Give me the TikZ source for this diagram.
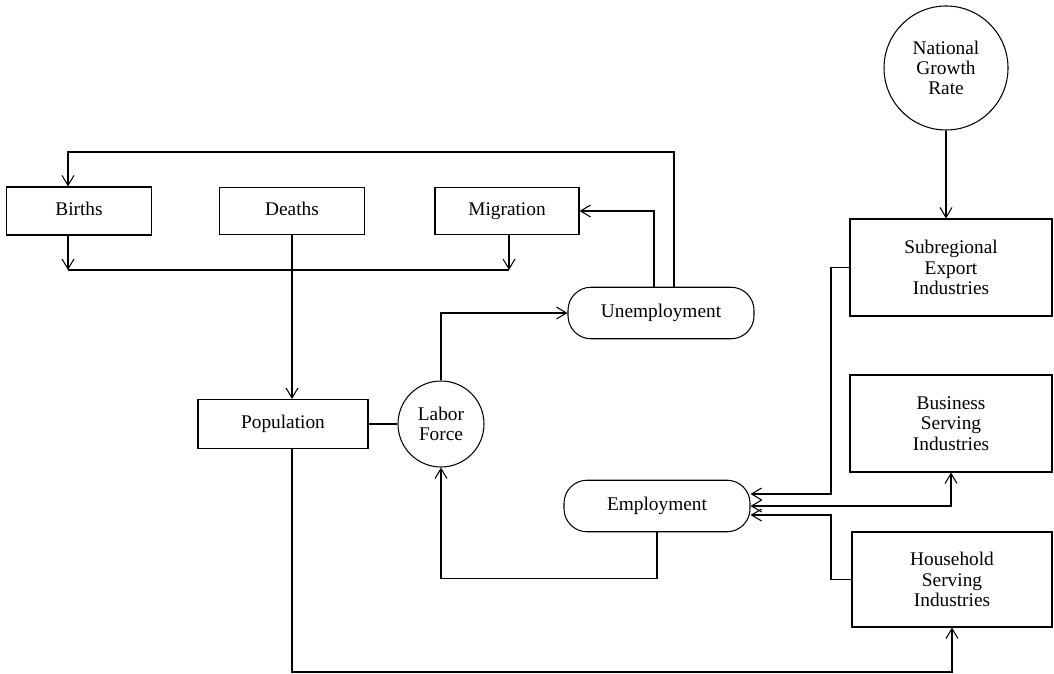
\documentclass[tikz,border=0pt]{standalone}
\usepackage{fontspec}
\setmainfont{Liberation Serif}
\usetikzlibrary{arrows.meta}
\begin{document}
\begin{tikzpicture}[
x=0.2mm,y=-0.2mm,
line width=0.6pt,
>={Straight Barb[length=2mm,width=2.4mm]},
every node/.style={
font=\fontsize{11}{11.5}\selectfont,
},
box/.style={%
draw,
align=center,
inner sep=0pt,
},
oneline/.style={%
text height=1.6ex,
text depth=0.45ex,
},
pill/.style={%
draw,
oneline,
rounded corners=4.6mm,
inner sep=0pt,
minimum height=10.3mm,
minimum width=37.2mm,
},
ring/.style={%
draw,
circle,
align=center,
inner sep=0pt,
}
]

\useasboundingbox(0,0)rectangle(1054,674);

%upper row
\node[box,oneline,minimum width=29mm,minimum height=9.6mm](births)at(79,211){Births};
\node[box,oneline,minimum width=29mm,minimum height=9.4mm](deaths)at(292,211){Deaths};
\node[box,oneline,minimum width=28.8mm,minimum height=9.4mm](migration)at(507,211){Migration};

%middle
\node[box,oneline,minimum width=34mm,minimum height=9.8mm](population)at(283,424){Population};
\node[ring,minimum size=17.2mm](labor)at(441,424){Labor\\Force};
\node[pill](unemp)at(661,313){Unemployment};
\node[pill](employment)at(657,506){Employment};

%industries
\node[ring,minimum size=24.8mm](national)at(946,68){National\\Growth\\Rate};
\node[box,minimum width=40.4mm,minimum height=19.4mm](subreg)at(951,267.5){Subregional\\Export\\Industries};
\node[box,minimum width=40.4mm,minimum height=19.4mm](business)at(951,423.5){Business\\Serving\\Industries};
\node[box,minimum width=40mm,minimum height=19mm](household)at(952,579.5){Household\\Serving\\Industries};

\coordinate(bj)at(68,270);
\coordinate(mj)at(509,270);
\coordinate(tp)at(68,152);
\coordinate(u1)at(654,0);
\coordinate(u2)at(674,0);
\coordinate(ke)at(831,494);
\coordinate(kh)at(831,515);
\coordinate(bt)at(292,672);

%population loop
\draw[->](births.south-|bj)--(bj);
\draw[->](migration.south-|mj)--(mj);
\draw(bj)--(mj);
\draw[->](deaths.south)--(deaths.south|-population.north);
\draw(population)--(labor);
\draw[->](labor.north)|-(unemp.west);
\draw[->](unemp.north-|u1)|-(migration.east);
\draw[->](unemp.north-|u2)|-(tp)--(births.north-|tp);
\draw[->](employment.south)--++(0,46)-|(labor.south);

%industry links
\draw[->](national.south)--(national.south|-subreg.north);
\draw[->](subreg.west)-|(ke)--(ke-|employment.east);
\draw[<->](employment.east)-|(business.south);
\draw[->](household.west)-|(kh)--(kh-|employment.east);
\draw[->](population.south-|deaths.south)--(bt)-|(household.south);

\end{tikzpicture}
\end{document}
